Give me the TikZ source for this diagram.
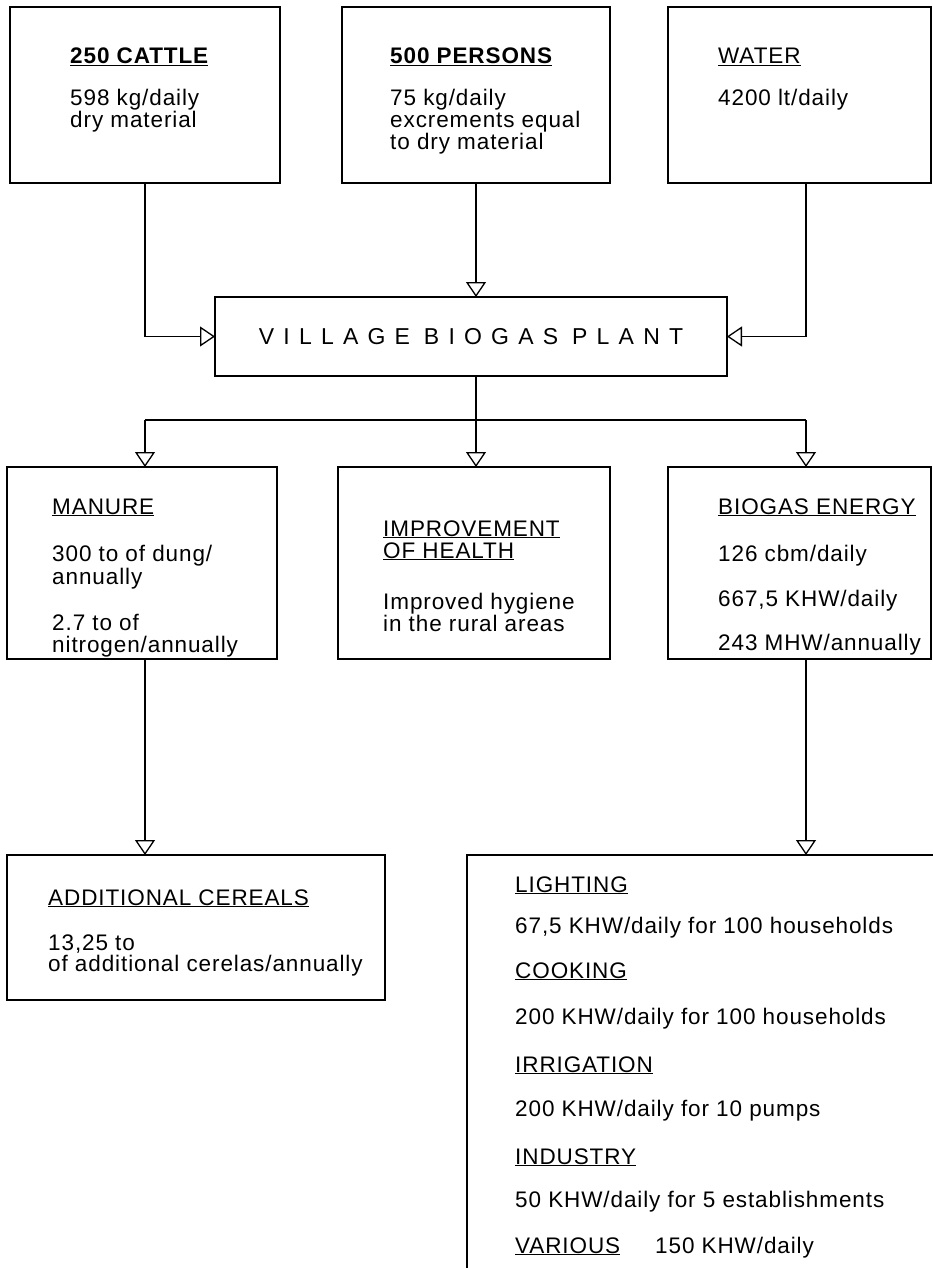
\documentclass[tikz,border=0pt]{standalone}
\usepackage{fontspec}
\setmainfont{Liberation Sans}
\newfontfamily\bodyfont[LetterSpace=4]{Liberation Sans}
\newfontfamily\plantfont[LetterSpace=40]{Liberation Sans}
\usetikzlibrary{arrows.meta}
\newcommand{\hd}[1]{\underline{#1}}
\tikzset{
  box/.style={draw, line width=2.2pt, anchor=north west, inner sep=0pt, outer sep=0pt},
  conn/.style={line width=1.3pt, -{Triangle[open,length=15pt,width=20pt,line width=1.3pt]}},
  wire/.style={line width=1.3pt},
  txt/.style={anchor=base west, inner sep=0pt, font=\bodyfont\fontsize{22.5}{24}\selectfont},
  btxt/.style={txt, font=\bodyfont\bfseries\fontsize{22.5}{24}\selectfont},
}
\begin{document}
\begin{tikzpicture}[x=1pt,y=-1pt]
\useasboundingbox (0,0) rectangle (933,1268);
\clip (0,0) rectangle (933,1268);
% boxes
\node[box, minimum width=270pt, minimum height=176pt] (cattle) at (10,7) {};
\node[box, minimum width=268pt, minimum height=176pt] (persons) at (342,7) {};
\node[box, minimum width=263pt, minimum height=176pt] (water) at (668,7) {};
\node[box, minimum width=512pt, minimum height=79pt, font=\plantfont\fontsize{23}{24}\selectfont] (plant) at (215,297) {VILLAGE\hspace{14pt}BIOGAS\hspace{14pt}PLANT};
\node[box, minimum width=270pt, minimum height=192pt] (manure) at (7,467) {};
\node[box, minimum width=272pt, minimum height=192pt] (health) at (338,467) {};
\node[box, minimum width=263pt, minimum height=192pt] (energy) at (668,467) {};
\node[box, minimum width=378pt, minimum height=145pt] (cereals) at (7,855) {};
\node[box, minimum width=600pt, minimum height=600pt] (uses) at (467,855) {};
% column coordinates
\coordinate (cL) at (145,420);
\coordinate (cM) at (476,420);
\coordinate (cR) at (806,420);
% connectors into plant
\draw[conn] (cL |- cattle.south) |- (plant.west);
\draw[conn] (cM |- persons.south) -- (cM |- plant.north);
\draw[conn] (cR |- water.south) |- (plant.east);
% from plant
\draw[wire] (cM |- plant.south) -- (cM);
\draw[wire] (cL) -- (cR);
\draw[conn] (cL) -- (cL |- manure.north);
\draw[conn] (cM) -- (cM |- health.north);
\draw[conn] (cR) -- (cR |- energy.north);
\draw[conn] (cL |- manure.south) -- (cL |- cereals.north);
\draw[conn] (cR |- energy.south) -- (cR |- uses.north);
% texts top row
\node[btxt] (t1) at (70,64) {\hd{250 CATTLE}};
\node[txt] (t2) at (70,106) {598 kg/daily};
\node[txt] (t3) at (70,128) {dry material};
\node[btxt] (p1) at (390,64) {\hd{500 PERSONS}};
\node[txt] (p2) at (390,106) {75 kg/daily};
\node[txt] (p3) at (390,128) {excrements equal};
\node[txt] (p4) at (390,150) {to dry material};
\node[txt] (w1) at (718,64) {\hd{WATER}};
\node[txt] (w2) at (718,106) {4200 lt/daily};
% middle row
\node[txt] (m1) at (52,514) {\hd{MANURE}};
\node[txt] (m2) at (52,561) {300 to of dung/};
\node[txt] (m3) at (52,584) {annually};
\node[txt] (m4) at (52,630) {2.7 to of};
\node[txt] (m5) at (52,652) {nitrogen/annually};
\node[txt] (h1) at (383,536) {\hd{IMPROVEMENT}};
\node[txt] (h2) at (383,558) {\hd{OF HEALTH}};
\node[txt] (h3) at (383,609) {Improved hygiene};
\node[txt] (h4) at (383,631) {in the rural areas};
\node[txt] (e1) at (718,514) {\hd{BIOGAS ENERGY}};
\node[txt] (e2) at (718,561) {126 cbm/daily};
\node[txt] (e3) at (718,606) {667,5 KHW/daily};
\node[txt] (e4) at (718,650) {243 MHW/annually};
% bottom row
\node[txt] (a1) at (48,905) {\hd{ADDITIONAL CEREALS}};
\node[txt] (a2) at (48,950) {13,25 to};
\node[txt] (a3) at (48,971) {of additional cerelas/annually};
\node[txt] (u1) at (515,892) {\hd{LIGHTING}};
\node[txt] (u2) at (515,933) {67,5 KHW/daily for 100 households};
\node[txt] (u3) at (515,978) {\hd{COOKING}};
\node[txt] (u4) at (515,1024) {200 KHW/daily for 100 households};
\node[txt] (u5) at (515,1072) {\hd{IRRIGATION}};
\node[txt] (u6) at (515,1116) {200 KHW/daily for 10 pumps};
\node[txt] (u7) at (515,1164) {\hd{INDUSTRY}};
\node[txt] (u8) at (515,1207) {50 KHW/daily for 5 establishments};
\node[txt] (u9) at (515,1253) {\hd{VARIOUS}};
\node[txt] (u10) at (655,1253) {150 KHW/daily};
\end{tikzpicture}
\end{document}
